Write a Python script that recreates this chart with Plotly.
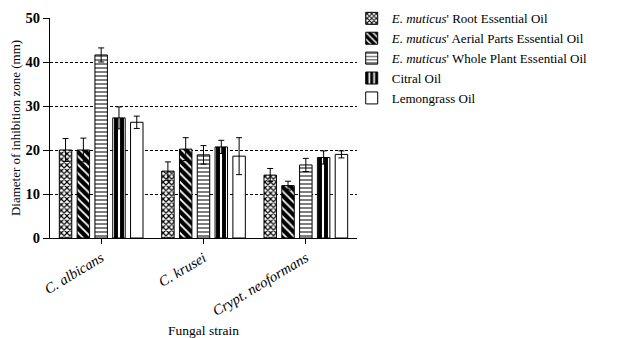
import plotly.graph_objects as go

strains = ["<i>C. albicans</i>", "<i>C. krusei</i>", "<i>Crypt. neoformans</i>"]
series_names = [
    "<i>E. muticus</i>' Root Essential Oil",
    "<i>E. muticus</i>' Aerial Parts Essential Oil",
    "<i>E. muticus</i>' Whole Plant Essential Oil",
    "Citral Oil",
    "Lemongrass Oil",
]
root_vals = [20.0, 15.2, 14.3]
root_err = [2.6, 2.1, 1.5]
aerial_vals = [20.0, 20.2, 11.9]
aerial_err = [2.7, 2.6, 1.0]
whole_vals = [41.6, 18.9, 16.6]
whole_err = [1.6, 2.1, 1.5]
citral_vals = [27.3, 20.7, 18.3]
citral_err = [2.5, 1.5, 1.5]
lemon_vals = [26.3, 18.6, 19.0]
lemon_err = [1.4, 4.2, 0.8]

values = [root_vals, aerial_vals, whole_vals, citral_vals, lemon_vals]
errors = [root_err, aerial_err, whole_err, citral_err, lemon_err]
patterns = [
    dict(shape="x", size=4, solidity=0.5, fgcolor="black", bgcolor="white", fgopacity=1),
    dict(shape="\\", size=6, solidity=0.3, fgcolor="white", bgcolor="black", fgopacity=1),
    dict(shape="-", size=4, solidity=0.25, fgcolor="black", bgcolor="white", fgopacity=1),
    dict(shape="|", size=6, solidity=0.35, fgcolor="white", bgcolor="black", fgopacity=1),
    dict(shape="", fgcolor="black", bgcolor="white"),
]

FONT = "Times New Roman, Liberation Serif, DejaVu Serif, serif"

fig = go.Figure()
for name, v, e, p in zip(series_names, values, errors, patterns):
    fig.add_trace(go.Bar(
        x=strains, y=v, name=name,
        marker=dict(color="white", line=dict(color="black", width=1), pattern=p),
        error_y=dict(type="data", array=e, visible=True, color="black", thickness=1, width=3),
    ))

fig.update_layout(
    width=636, height=338,
    margin=dict(l=50, r=279, t=18, b=100, autoexpand=False),
    paper_bgcolor="white", plot_bgcolor="white",
    barmode="group", bargap=0.13, bargroupgap=0.3,
    font=dict(family=FONT, size=12, color="black"),
    showlegend=True,
    legend=dict(xref="container", yref="container", x=0.553, y=0.99,
                xanchor="left", yanchor="top",
                font=dict(family=FONT, size=13, color="black"),
                bgcolor="rgba(0,0,0,0)", tracegroupgap=0),
)
fig.update_xaxes(
    showline=True, linecolor="black", linewidth=1,
    ticks="outside", ticklen=5, tickcolor="black",
    tickangle=-31, tickfont=dict(family=FONT, size=14.5),
    range=[-0.5, 2.5], showgrid=False,
    title=dict(text="Fungal strain", font=dict(family=FONT, size=13.5), standoff=18),
)
fig.update_yaxes(
    range=[0, 50], tickvals=[0, 10, 20, 30, 40, 50],
    showline=True, linecolor="black", linewidth=1,
    ticks="outside", ticklen=6, tickcolor="black",
    tickfont=dict(family=FONT, size=14.5, weight="bold"),
    showgrid=True, gridcolor="black", griddash="3px,2px", gridwidth=0.8,
    zeroline=False,
    title=dict(text="Diameter of inhibition zone (mm)", font=dict(family=FONT, size=13), standoff=2),
)
fig.write_html(
    "out.html",
    config={"displayModeBar": False},
    post_script="document.body.style.margin='0';document.body.style.padding='0';",
)
